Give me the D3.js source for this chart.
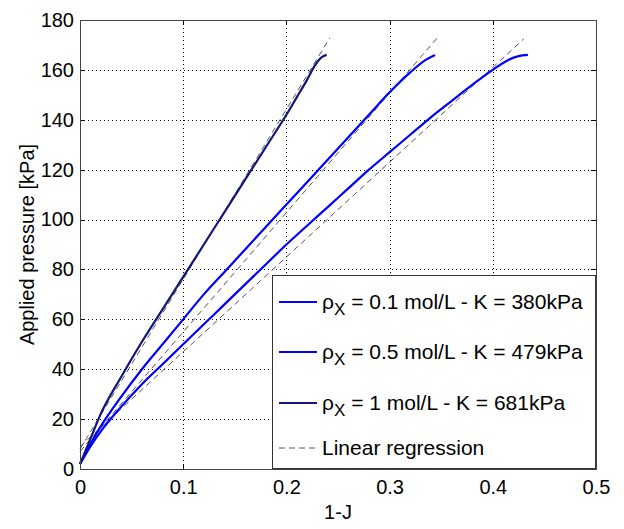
<!DOCTYPE html>
<html><head><meta charset="utf-8">
<script src="https://cdn.jsdelivr.net/npm/d3@7"></script>
<style>body{margin:0;background:#fff}svg{display:block}text{font-family:"Liberation Sans",Arial,sans-serif;fill:#000}</style>
</head><body>
<script>
// ---- data ----
const xTicks = [0, 0.1, 0.2, 0.3, 0.4, 0.5];
const xTickLabels = ["0", "0.1", "0.2", "0.3", "0.4", "0.5"];
const yTicks = [0, 20, 40, 60, 80, 100, 120, 140, 160, 180];
const yTickLabels = ["0", "20", "40", "60", "80", "100", "120", "140", "160", "180"];

const seriesNames = ["0.1 mol/L - K = 380kPa", "0.5 mol/L - K = 479kPa", "1 mol/L - K = 681kPa"];
const seriesK = [380, 479, 681];
const seriesIntercept = [9, 7, 8];
const seriesXEnd = [0.43, 0.348, 0.242];

const x01 = [0, 0.01, 0.02, 0.04, 0.06, 0.08, 0.1, 0.12, 0.14, 0.16, 0.18, 0.2, 0.22, 0.24, 0.26, 0.28, 0.3, 0.32, 0.34, 0.36, 0.38, 0.4, 0.415, 0.425, 0.434];
const p01 = [2, 9, 15, 25, 34, 42, 50, 58, 66, 74, 82, 90, 97.5, 105, 112.5, 120, 127, 134, 141, 147.5, 154, 160, 164, 165.5, 166];
const x05 = [0, 0.01, 0.02, 0.04, 0.06, 0.08, 0.1, 0.12, 0.14, 0.16, 0.18, 0.2, 0.22, 0.24, 0.26, 0.28, 0.3, 0.32, 0.335, 0.344];
const p05 = [2, 10, 17, 29, 40, 50, 60, 70, 79, 88, 97, 106, 115, 124, 133, 142, 151, 159, 164, 166];
const x1 = [0, 0.01, 0.02, 0.04, 0.06, 0.08, 0.1, 0.12, 0.14, 0.16, 0.18, 0.2, 0.21, 0.22, 0.228, 0.234, 0.239];
const p1 = [2, 12, 22, 37, 51, 64, 77, 90, 103, 116, 129, 142, 149, 156, 162, 165, 166];

const seriesColors = ["#0000ff", "#0000ff", "#14147a"];

// ---- chart ----
const W = 624, H = 529;
const L = 80, R = 596, T = 20, B = 469;
const FS = 20;
const svg = d3.select("body").append("svg").attr("width", W).attr("height", H);
const x = d3.scaleLinear().domain([0, 0.5]).range([L, R]);
const y = d3.scaleLinear().domain([0, 180]).range([B, T]);

// grid
const grid = svg.append("g").attr("stroke", "#000").attr("stroke-width", 1).attr("stroke-dasharray", "1,3").attr("shape-rendering", "crispEdges");
xTicks.slice(1, -1).forEach(t => grid.append("line").attr("x1", Math.round(x(t)) + 0.5).attr("x2", Math.round(x(t)) + 0.5).attr("y1", T).attr("y2", B));
yTicks.slice(1, -1).forEach(t => grid.append("line").attr("y1", Math.round(y(t)) + 0.5).attr("y2", Math.round(y(t)) + 0.5).attr("x1", L).attr("x2", R));

// regression lines
const line = d3.line().x(d => x(d[0])).y(d => y(d[1]));
seriesK.forEach((k, i) => {
  svg.append("path").datum([[0, seriesIntercept[i]], [seriesXEnd[i], seriesIntercept[i] + k * seriesXEnd[i]]])
    .attr("d", line).attr("fill", "none").attr("stroke", "#555").attr("stroke-width", 1).attr("stroke-dasharray", "6,4");
});

// curves
const curves = [[x01, p01], [x05, p05], [x1, p1]];
curves.forEach((c, i) => {
  svg.append("path").datum(c[0].map((v, j) => [v, c[1][j]]))
    .attr("d", line.curve(d3.curveMonotoneX)).attr("fill", "none").attr("stroke", seriesColors[i]).attr("stroke-width", 2.2);
});

// axes
const ax = svg.append("g").attr("transform", `translate(0,${B})`)
  .call(d3.axisBottom(x).tickValues(xTicks).tickFormat((d, i) => xTickLabels[i]).tickSize(0).tickPadding(11));
const ay = svg.append("g").attr("transform", `translate(${L},0)`)
  .call(d3.axisLeft(y).tickValues(yTicks).tickFormat((d, i) => yTickLabels[i]).tickSize(0).tickPadding(6));
[ax, ay].forEach(g => { g.select(".domain").remove(); g.selectAll("text").attr("font-size", FS).attr("font-family", "Liberation Sans, Arial, sans-serif"); });

// inner ticks
const tk = svg.append("g").attr("stroke", "#000").attr("stroke-width", 1).attr("shape-rendering", "crispEdges");
xTicks.forEach(t => {
  const px = Math.round(x(t)) + 0.5;
  tk.append("line").attr("x1", px).attr("x2", px).attr("y1", B).attr("y2", B - 5);
  tk.append("line").attr("x1", px).attr("x2", px).attr("y1", T).attr("y2", T + 5);
});
yTicks.forEach(t => {
  const py = Math.round(y(t)) + 0.5;
  tk.append("line").attr("y1", py).attr("y2", py).attr("x1", L).attr("x2", L + 5);
  tk.append("line").attr("y1", py).attr("y2", py).attr("x1", R).attr("x2", R - 5);
});

// legend
const lg = svg.append("g");
lg.append("rect").attr("x", 272.5).attr("y", 275.5).attr("width", 323).attr("height", 193)
  .attr("fill", "#fff").attr("stroke", "#333").attr("stroke-width", 1);
const rowsY = [302, 352, 403, 448];
seriesNames.forEach((n, i) => {
  lg.append("line").attr("x1", 279).attr("x2", 317).attr("y1", rowsY[i]).attr("y2", rowsY[i])
    .attr("stroke", seriesColors[i]).attr("stroke-width", 2);
  const t = lg.append("text").attr("x", 322).attr("y", rowsY[i] + 7).attr("font-size", 21);
  t.append("tspan").text("ρ");
  t.append("tspan").attr("font-size", 17).attr("dy", 6).text("X");
  t.append("tspan").attr("dy", -6).text(" = " + n);
});
lg.append("line").attr("x1", 279).attr("x2", 317).attr("y1", rowsY[3]).attr("y2", rowsY[3])
  .attr("stroke", "#555").attr("stroke-width", 1).attr("stroke-dasharray", "6,4");
lg.append("text").attr("x", 322).attr("y", rowsY[3] + 7).attr("font-size", 21).text("Linear regression");

// box
svg.append("rect").attr("x", L + 0.5).attr("y", T + 0.5).attr("width", R - L).attr("height", B - T)
  .attr("fill", "none").attr("stroke", "#444").attr("stroke-width", 1);

// axis titles
svg.append("text").attr("x", (L + R) / 2).attr("y", 519).attr("text-anchor", "middle").attr("font-size", FS).text("1-J");
svg.append("text").attr("transform", `translate(34,${(T + B) / 2}) rotate(-90)`).attr("text-anchor", "middle").attr("font-size", FS).text("Applied pressure [kPa]");
</script>
</body></html>
